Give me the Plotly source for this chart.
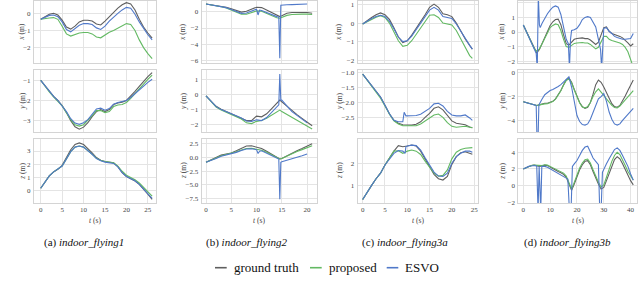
import plotly.graph_objects as go

# ---------------- data ----------------
# indoor_flying1
t_f1 = [0,1,2,3,4,5,6,7,8,9,10,11,12,13,14,15,16,17,18,19,20,21,22,23,24,25,26]
f1_x_gt   = [-0.35,-0.2,-0.05,0.0,-0.1,-0.4,-0.8,-0.92,-0.75,-0.5,-0.4,-0.4,-0.45,-0.62,-0.68,-0.45,-0.2,0.1,0.3,0.5,0.62,0.55,0.2,-0.35,-0.8,-1.15,-1.45]
f1_x_prop = [-0.35,-0.3,-0.27,-0.25,-0.35,-0.75,-1.2,-1.33,-1.25,-1.15,-1.12,-1.12,-1.2,-1.38,-1.43,-1.25,-1.1,-1.0,-0.85,-0.7,-0.6,-0.65,-1.0,-1.55,-2.0,-2.35,-2.65]
f1_x_esvo = [-0.35,-0.25,-0.12,-0.1,-0.2,-0.5,-0.95,-1.08,-0.9,-0.7,-0.6,-0.6,-0.65,-0.85,-0.94,-0.75,-0.45,-0.2,0.0,0.2,0.35,0.3,-0.05,-0.5,-0.9,-1.25,-1.55]
f1_y_gt   = [-1.0,-1.28,-1.56,-1.8,-2.0,-2.25,-2.6,-3.0,-3.3,-3.42,-3.32,-3.1,-2.8,-2.55,-2.45,-2.55,-2.45,-2.2,-2.12,-2.08,-2.0,-1.8,-1.55,-1.3,-1.05,-0.82,-0.62]
f1_y_prop = [-1.0,-1.3,-1.58,-1.82,-2.02,-2.27,-2.6,-2.95,-3.2,-3.27,-3.2,-3.0,-2.75,-2.5,-2.5,-2.6,-2.55,-2.3,-2.22,-2.2,-2.1,-1.9,-1.65,-1.4,-1.15,-0.95,-0.74]
f1_y_esvo = [-1.0,-1.28,-1.55,-1.8,-2.0,-2.25,-2.55,-2.9,-3.12,-3.18,-3.1,-2.95,-2.7,-2.42,-2.38,-2.48,-2.4,-2.18,-2.1,-2.05,-2.0,-1.85,-1.65,-1.45,-1.25,-1.1,-0.95]
f1_z_gt   = [0.15,0.6,1.1,1.4,1.6,1.9,2.5,3.1,3.5,3.62,3.5,3.2,2.85,2.5,2.3,2.2,2.15,2.1,1.8,1.35,1.05,0.9,0.7,0.45,0.1,-0.3,-0.7]
f1_z_prop = [0.15,0.6,1.1,1.4,1.6,1.85,2.4,2.95,3.3,3.38,3.3,3.05,2.75,2.45,2.28,2.2,2.15,2.1,1.85,1.45,1.15,1.0,0.8,0.55,0.2,-0.15,-0.45]
f1_z_esvo = [0.15,0.6,1.1,1.4,1.6,1.85,2.4,2.95,3.3,3.38,3.3,3.05,2.75,2.42,2.25,2.15,2.1,2.05,1.78,1.35,1.05,0.9,0.72,0.45,0.1,-0.25,-0.62]

# indoor_flying2
t_f2 = [0,1,2,3,4,5,6,7,8,9,10,11,12,13,14,14.6,15,16,17,18,19,20,21]
f2_x_gt   = [0.95,0.85,0.75,0.65,0.55,0.35,0.1,-0.05,0.05,0.35,0.55,0.5,0.2,-0.2,-0.5,-0.6,-0.5,-0.2,-0.1,-0.1,-0.05,-0.1,-0.2]
f2_x_prop = [0.95,0.85,0.72,0.6,0.45,0.2,-0.1,-0.3,-0.3,-0.1,0.1,0.05,-0.2,-0.5,-0.75,-0.8,-0.7,-0.45,-0.35,-0.3,-0.3,-0.3,-0.35]
t_f2_x_esvo = [0,1,2,3,4,5,6,7,8,9,10,10.3,10.6,11,12,13,14,14.4,14.6,14.8,15,16,17,18,19,20]
f2_x_esvo = [0.95,0.85,0.73,0.62,0.5,0.28,0.0,-0.2,-0.15,0.1,0.3,-0.4,0.2,0.15,-0.1,-0.4,-0.6,-0.65,-5.7,0.8,0.82,0.85,0.87,0.9,0.92,0.95]
f2_y_gt   = [-0.1,-0.45,-0.8,-1.0,-1.15,-1.27,-1.4,-1.55,-1.75,-1.75,-1.45,-1.5,-1.3,-0.95,-0.55,-0.38,-0.5,-0.8,-1.1,-1.35,-1.6,-1.85,-2.09]
f2_y_prop = [-0.1,-0.5,-0.85,-1.05,-1.2,-1.3,-1.45,-1.65,-1.9,-1.95,-1.8,-1.75,-1.6,-1.4,-1.15,-1.05,-1.15,-1.35,-1.55,-1.75,-1.95,-2.15,-2.31]
t_f2_y_esvo = [0,1,2,3,4,5,6,7,8,9,10,11,12,13,14,14.4,14.6,14.8,15,16,17,18,19,20]
f2_y_esvo = [-0.1,-0.48,-0.82,-1.02,-1.17,-1.28,-1.42,-1.58,-1.78,-1.8,-1.7,-1.75,-1.55,-1.2,-0.85,-0.7,1.35,-0.4,-0.38,-0.8,-1.15,-1.4,-1.65,-1.9]
f2_z_gt   = [-0.9,-0.5,0.0,0.4,0.6,0.8,1.2,1.7,2.05,2.1,1.9,1.6,1.1,0.6,0.0,-0.3,-0.2,0.3,0.8,1.2,1.6,2.0,2.45]
f2_z_prop = [-0.9,-0.55,-0.1,0.3,0.5,0.7,1.0,1.35,1.6,1.65,1.5,1.3,0.9,0.45,-0.05,-0.3,-0.2,0.25,0.7,1.05,1.4,1.75,2.1]
t_f2_z_esvo = [0,1,2,3,4,5,6,7,8,9,10,10.3,10.6,11,12,13,14,14.4,14.6,14.8,15,16,17,18,19,20]
f2_z_esvo = [-0.9,-0.6,-0.2,0.2,0.4,0.6,0.9,1.25,1.5,1.55,1.4,0.7,1.1,1.2,0.8,0.4,-0.1,-0.3,-7.6,-0.9,-0.8,-0.55,-0.3,0.0,0.3,0.6]

# indoor_flying3a
t_f3 = [0,1,2,3,4,5,6,7,8,9,10,11,12,13,14,15,16,17,18,19,20,21,22,23,24,24.6]
f3_x_gt   = [-0.05,0.15,0.3,0.45,0.55,0.45,0.2,-0.25,-0.75,-1.05,-0.95,-0.65,-0.3,0.05,0.45,0.85,1.02,0.85,0.5,0.45,0.35,0.0,-0.45,-0.85,-1.2,-1.4]
f3_x_prop = [-0.05,0.08,0.2,0.32,0.4,0.3,0.0,-0.45,-0.95,-1.25,-1.2,-0.95,-0.6,-0.25,0.1,0.42,0.45,0.3,0.0,-0.05,-0.1,-0.4,-0.85,-1.3,-1.75,-1.9]
f3_x_esvo = [-0.05,0.1,0.25,0.35,0.42,0.35,0.1,-0.3,-0.75,-1.0,-0.95,-0.7,-0.35,0.0,0.35,0.7,0.85,0.7,0.35,0.3,0.25,-0.05,-0.45,-0.85,-1.2,-1.4]
f3_y_gt   = [-1.06,-1.25,-1.45,-1.62,-1.82,-2.1,-2.38,-2.6,-2.7,-2.75,-2.76,-2.76,-2.73,-2.65,-2.5,-2.37,-2.2,-2.15,-2.25,-2.45,-2.62,-2.7,-2.72,-2.75,-2.82,-2.85]
f3_y_prop = [-1.06,-1.27,-1.48,-1.66,-1.86,-2.12,-2.4,-2.62,-2.72,-2.78,-2.78,-2.8,-2.78,-2.72,-2.62,-2.5,-2.42,-2.39,-2.5,-2.68,-2.8,-2.83,-2.82,-2.8,-2.83,-2.85]
t_f3_y_esvo = [0,1,2,3,4,5,6,7,8,9,9.3,9.7,10,11,12,13,14,15,16,17,18,19,20,21,22,23,24,24.6]
f3_y_esvo = [-1.06,-1.25,-1.45,-1.62,-1.82,-2.1,-2.38,-2.6,-2.65,-2.65,-2.33,-2.45,-2.45,-2.45,-2.44,-2.4,-2.3,-2.2,-2.05,-2.03,-2.12,-2.3,-2.42,-2.45,-2.45,-2.42,-2.52,-2.6]
f3_z_gt   = [0.36,0.7,1.0,1.3,1.55,1.92,2.25,2.55,2.8,2.75,2.78,2.83,2.78,2.55,2.2,1.85,1.5,1.3,1.24,1.4,1.95,2.3,2.48,2.52,2.45,2.41]
f3_z_prop = [0.36,0.7,1.0,1.3,1.55,1.92,2.25,2.55,2.57,2.45,2.55,2.6,2.55,2.4,2.1,1.8,1.55,1.42,1.45,1.7,2.2,2.5,2.62,2.68,2.7,2.71]
t_f3_z_esvo = [0,1,2,3,4,5,6,7,8,9,9.5,9.7,10,11,12,13,14,15,16,17,18,19,20,21,22,23,24,24.6]
f3_z_esvo = [0.36,0.7,1.0,1.3,1.55,1.92,2.2,2.45,2.58,2.55,2.45,2.75,2.78,2.82,2.8,2.6,2.25,1.9,1.6,1.42,1.4,1.55,2.0,2.3,2.45,2.55,2.55,2.5]

# indoor_flying3b
t_f4 = list(range(42))
f4_x_gt   = [0.48,0.1,-0.3,-0.75,-1.15,-1.43,-1.2,-0.8,-0.35,0.1,0.45,0.7,0.85,0.88,0.5,-0.2,-0.8,-0.9,-0.7,-0.5,-0.45,-0.4,-0.4,-0.45,-0.45,-0.55,-0.7,-0.85,-0.7,-0.25,0.3,0.35,0.05,-0.1,-0.15,-0.22,-0.3,-0.4,-0.55,-0.75,-0.95,-0.8]
f4_x_prop = [0.48,0.1,-0.3,-0.7,-1.1,-1.32,-1.15,-0.8,-0.4,0.0,0.3,0.45,0.55,0.5,0.1,-0.5,-1.0,-1.05,-0.9,-0.78,-0.75,-0.72,-0.72,-0.75,-0.75,-0.85,-1.0,-1.15,-1.05,-0.65,-0.3,-0.3,-0.5,-0.58,-0.62,-0.7,-0.75,-0.85,-1.05,-1.35,-1.93,-2.4]
t_f4_x_esvo = [0,1,2,3,4,4.8,5.2,5.6,6.0,6.3,7,8,9,10,11,12,13,14,15,16,16.8,17.2,17.6,18,19,20,21,22,23,24,25,26,27,28,28.8,29.2,29.6,30,31,32,33,34,35,36,37,38,39,40,41]
f4_x_esvo = [0.48,0.1,-0.3,-0.75,-1.15,-1.45,-2.5,2.5,0.5,0.3,0.6,0.95,1.25,1.5,1.7,1.78,1.7,1.2,0.3,-0.5,-0.8,-2.5,-0.5,0.1,0.15,0.25,0.5,0.85,1.0,1.05,1.0,0.7,0.35,-0.5,-1.2,-2.5,-0.8,0.25,0.3,0.05,-0.1,-0.3,-0.38,-0.45,-0.5,-0.5,-0.5,-0.45,-0.1]
f4_y_gt   = [-2.44,-2.5,-2.6,-2.68,-2.72,-2.75,-2.7,-2.62,-2.57,-2.57,-2.5,-2.4,-2.2,-1.9,-1.5,-1.0,-0.6,-0.42,-0.8,-1.4,-2.0,-2.5,-2.85,-2.99,-2.9,-2.5,-1.8,-1.0,-0.61,-0.8,-1.2,-1.7,-2.2,-2.6,-2.85,-2.9,-2.75,-2.4,-1.95,-1.5,-1.0,-0.6]
f4_y_prop = [-2.44,-2.5,-2.6,-2.68,-2.72,-2.75,-2.7,-2.64,-2.62,-2.6,-2.52,-2.42,-2.22,-1.92,-1.52,-1.05,-0.65,-0.5,-0.85,-1.45,-2.05,-2.55,-2.88,-2.95,-2.85,-2.5,-2.0,-1.6,-1.35,-1.6,-1.9,-2.2,-2.5,-2.75,-2.92,-2.95,-2.8,-2.55,-2.3,-2.0,-1.75,-1.5]
t_f4_y_esvo = [0,1,2,3,4,4.8,5.1,5.5,5.8,6,7,8,9,10,11,12,13,14,15,16,17,18,19,20,21,22,23,24,25,26,27,28,29,30,31,32,33,34,35,36,37,38,39,40,41]
f4_y_esvo = [-2.44,-2.5,-2.6,-2.68,-2.72,-2.75,-5.5,-5.5,-2.7,-2.6,-2.2,-1.85,-1.65,-1.5,-1.4,-1.3,-1.15,-1.0,-0.8,-0.55,-0.35,-1.2,-2.5,-3.6,-4.1,-4.35,-4.4,-4.3,-3.9,-3.3,-2.7,-2.2,-2.0,-1.75,-2.4,-3.3,-3.9,-4.3,-4.4,-4.3,-4.0,-3.7,-3.5,-3.25,-3.0]
f4_z_gt   = [2.0,2.15,2.3,2.4,2.45,2.4,2.3,2.35,2.45,2.4,2.2,2.0,1.85,1.7,1.55,1.35,1.0,0.3,-0.55,0.2,1.1,1.9,2.5,2.9,2.98,2.5,1.7,0.9,0.2,-0.4,-0.2,0.6,1.5,2.4,3.1,3.45,3.2,2.6,1.9,1.2,0.6,0.1]
f4_z_prop = [2.0,2.15,2.3,2.4,2.45,2.42,2.35,2.4,2.5,2.45,2.3,2.15,2.0,1.85,1.7,1.5,1.15,0.35,-0.4,0.4,1.3,2.1,2.7,3.1,3.17,2.7,1.9,1.1,0.4,-0.15,0.1,1.0,2.0,2.9,3.6,3.98,3.7,3.1,2.4,1.7,1.1,0.68]
t_f4_z_esvo = [0,1,2,3,4,5,5.5,5.9,6.5,6.9,7.3,8,9,10,11,12,13,14,15,16,16.6,17.2,17.8,18.3,19,20,21,22,23,24,25,26,27,28,28.5,29.0,29.5,30,31,32,33,34,35,36,37,38,39,40,41]
f4_z_esvo = [2.0,2.15,2.3,2.35,2.4,2.35,-3,2.3,-3,2.3,2.3,2.3,2.2,2.0,1.8,1.6,1.45,1.3,1.1,0.9,0.8,-3,-3,2.3,2.6,3.0,3.6,4.2,4.6,4.7,4.0,3.3,2.9,2.5,-3,-3,1.6,2.0,2.6,3.2,3.8,4.3,4.5,4.2,3.6,3.0,2.3,1.4,0.65]

captions = ["indoor_flying1", "indoor_flying2", "indoor_flying3a", "indoor_flying3b"]
caption_letters = ["(a)", "(b)", "(c)", "(d)"]
row_labels = ["x", "y", "z"]
legend_names = ["ground truth", "proposed", "ESVO"]

# ---------------- styling ----------------
W, H = 640, 284
C_GT, C_PROP, C_ESVO = "#5f5f5f", "#63b963", "#5079c9"
GRID, FRAME = "#e4e4e4", "#d4d4d4"
FONT = "Liberation Serif"


def px_x(v):
    return v / W


def px_y(v):
    return 1 - v / H


col_px = [(34, 156), (201.7, 316.7), (357.7, 477.7), (518.3, 637.3)]
row_px = [(1, 63), (70, 132), (139, 203)]
xranges = [(-1.57, 26.9), (-0.85, 21.9), (-1.12, 25.8), (-1.87, 42.5)]
xticks = [[0, 5, 10, 15, 20, 25], [0, 5, 10, 15, 20], [0, 5, 10, 15, 20, 25], [0, 10, 20, 30, 40]]
ytitle_px = [21.7, 183, 339, 501.7]
caption_px = [84, 246, 405, 567]

panels = [
    [dict(yr=(-2.9, 0.72), yt=[0, -1, -2], fmt="", s=[(t_f1, f1_x_gt), (t_f1, f1_x_prop), (t_f1, f1_x_esvo)]),
     dict(yr=(-3.56, -0.49), yt=[-1, -2, -3], fmt="", s=[(t_f1, f1_y_gt), (t_f1, f1_y_prop), (t_f1, f1_y_esvo)]),
     dict(yr=(-0.98, 3.92), yt=[0, 1, 2, 3], fmt="", s=[(t_f1, f1_z_gt), (t_f1, f1_z_prop), (t_f1, f1_z_esvo)])],
    [dict(yr=(-6.28, 1.31), yt=[0, -2, -4, -6], fmt="", s=[(t_f2, f2_x_gt), (t_f2, f2_x_prop), (t_f2_x_esvo, f2_x_esvo)]),
     dict(yr=(-2.51, 1.62), yt=[1, 0, -1, -2], fmt="", s=[(t_f2, f2_y_gt), (t_f2, f2_y_prop), (t_f2_y_esvo, f2_y_esvo)]),
     dict(yr=(-8.3, 3.33), yt=[2.5, 0, -2.5, -5, -7.5], fmt=".1f", s=[(t_f2, f2_z_gt), (t_f2, f2_z_prop), (t_f2_z_esvo, f2_z_esvo)])],
    [dict(yr=(-2.15, 1.19), yt=[1, 0, -1, -2], fmt="", s=[(t_f3, f3_x_gt), (t_f3, f3_x_prop), (t_f3, f3_x_esvo)]),
     dict(yr=(-2.99, -0.92), yt=[-1, -1.5, -2, -2.5], fmt=".1f", s=[(t_f3, f3_y_gt), (t_f3, f3_y_prop), (t_f3_y_esvo, f3_y_esvo)]),
     dict(yr=(0.2, 3.1), yt=[1, 2], fmt="", s=[(t_f3, f3_z_gt), (t_f3, f3_z_prop), (t_f3_z_esvo, f3_z_esvo)])],
    [dict(yr=(-2.12, 2.12), yt=[2, 1, 0, -1, -2], fmt="", s=[(t_f4, f4_x_gt), (t_f4, f4_x_prop), (t_f4_x_esvo, f4_x_esvo)]),
     dict(yr=(-4.98, 0.23), yt=[0, -2, -4], fmt="", s=[(t_f4, f4_y_gt), (t_f4, f4_y_prop), (t_f4_y_esvo, f4_y_esvo)]),
     dict(yr=(-2.06, 5.56), yt=[4, 2, 0, -2], fmt="", s=[(t_f4, f4_z_gt), (t_f4, f4_z_prop), (t_f4_z_esvo, f4_z_esvo)])],
]

fig = go.Figure()
layout = {}
annotations = []
colors = [C_GT, C_PROP, C_ESVO]
idx = 0
for c in range(4):
    for r in range(3):
        idx += 1
        p = panels[c][r]
        xs = "x" if idx == 1 else f"x{idx}"
        ys = "y" if idx == 1 else f"y{idx}"
        for k, (tt, vv) in enumerate(p["s"]):
            fig.add_trace(go.Scatter(x=tt, y=vv, mode="lines", xaxis=xs, yaxis=ys,
                                     line=dict(color=colors[k], width=1.1),
                                     name=legend_names[k], showlegend=False, hoverinfo="skip"))
        x0, x1 = col_px[c]
        y0, y1 = row_px[r]
        common = dict(showgrid=True, gridcolor=GRID, gridwidth=1, zeroline=False,
                      showline=True, mirror=True, linecolor=FRAME, linewidth=1, ticks="",
                      tickfont=dict(family=FONT, size=7, color="#444444"))
        layout["xaxis" + ("" if idx == 1 else str(idx))] = dict(
            common, domain=[px_x(x0), px_x(x1)], range=list(xranges[c]), anchor=ys,
            tickvals=xticks[c], showticklabels=(r == 2), ticklabelstandoff=0)
        layout["yaxis" + ("" if idx == 1 else str(idx))] = dict(
            common, domain=[px_y(y1), px_y(y0)], range=list(p["yr"]), anchor=xs,
            tickvals=p["yt"], tickformat=p["fmt"], ticklabelstandoff=1)
        annotations.append(dict(text=f"<i>{row_labels[r]}</i> (m)", x=px_x(ytitle_px[c]),
                                y=px_y((y0 + y1) / 2), xref="paper", yref="paper",
                                xanchor="center", yanchor="middle",
                                textangle=-90, showarrow=False,
                                font=dict(family=FONT, size=7.5, color="#444444")))
    annotations.append(dict(text="<i>t</i> (s)", x=px_x((col_px[c][0] + col_px[c][1]) / 2),
                            y=px_y(220), xref="paper", yref="paper", showarrow=False,
                            xanchor="center", yanchor="middle",
                            font=dict(family=FONT, size=7.5, color="#444444")))
    annotations.append(dict(text=f"{caption_letters[c]} <i>{captions[c]}</i>",
                            x=px_x(caption_px[c]), y=px_y(242.5), xref="paper", yref="paper",
                            xanchor="center", yanchor="middle",
                            showarrow=False, font=dict(family=FONT, size=11, color="#111111")))

# legend (manual row under the captions)
leg_line_px = [(215, 226.7), (310, 321.7), (386.7, 398.3)]
leg_text_px = [231.7, 326.7, 403]
shapes = []
ly = px_y(267.7)
for k in range(3):
    shapes.append(dict(type="line", xref="paper", yref="paper",
                       x0=px_x(leg_line_px[k][0]), x1=px_x(leg_line_px[k][1]), y0=ly, y1=ly,
                       line=dict(color=colors[k], width=1.6)))
    annotations.append(dict(text=legend_names[k], x=px_x(leg_text_px[k]), y=ly, xref="paper",
                            yref="paper", xanchor="left", yanchor="middle", showarrow=False,
                            font=dict(family=FONT, size=13, color="#111111")))

fig.update_layout(width=W, height=H, margin=dict(l=0, r=0, t=0, b=0, autoexpand=False),
                  paper_bgcolor="white", plot_bgcolor="white", showlegend=False,
                  annotations=annotations, shapes=shapes, **layout)
fig.write_html("out.html", config={"displayModeBar": False},
               post_script="document.body.style.margin='0px';")
